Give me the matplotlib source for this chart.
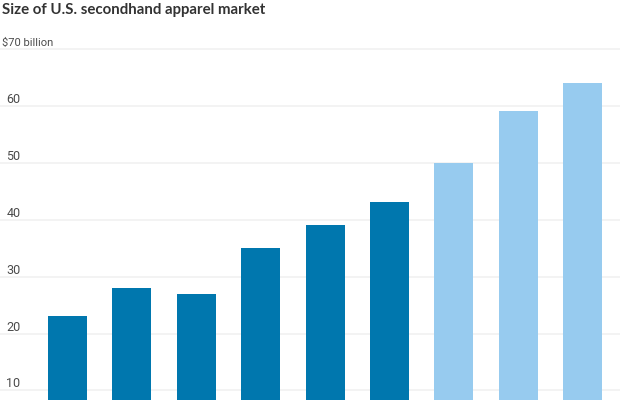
import matplotlib
matplotlib.use("Agg")
import matplotlib.pyplot as plt
from matplotlib.transforms import blended_transform_factory, offset_copy

years_index = [0, 1, 2, 3, 4, 5, 6, 7, 8]
values = [23, 28, 27, 35, 39, 43, 50, 59, 64]
is_projection = [False, False, False, False, False, False, True, True, True]
tick_values = [10, 20, 30, 40, 50, 60, 70]
tick_labels = ["10", "20", "30", "40", "50", "60", "$70 billion"]
title = "Size of U.S. secondhand apparel market"

fig = plt.figure(figsize=(6.2, 4.0), dpi=100)
ax = fig.add_axes([0, 0, 1, 1])
ax.set_xlim(-1.048, 8.58)
ax.set_ylim(8.33, 78.53)
ax.axis("off")

for t in tick_values:
    ax.axhline(t, color="#f0f0f0", lw=1.1, zorder=1)

colors = ["#97cbef" if p else "#0077ae" for p in is_projection]
ax.bar(years_index, values, width=0.606, color=colors, zorder=2)

trans = blended_transform_factory(fig.transFigure, ax.transData)
trans = offset_copy(trans, fig=fig, x=0, y=3, units="dots")
for t, lab in zip(tick_values, tick_labels):
    if lab.startswith("$"):
        ax.text(2 / 620, t, lab.replace("$", r"\$"), transform=trans, ha="left", va="baseline",
                fontsize=8.0, color="#4a4a4a", family="Roboto", zorder=3)
    else:
        ax.text(20.5 / 620, t, lab, transform=trans, ha="right", va="baseline",
                fontsize=9.0, color="#4a4a4a", family="Roboto", zorder=3)

fig.text(1.5 / 620, 1 - 14 / 400, title, ha="left", va="baseline", fontsize=10.8,
         fontweight="bold", family="Lato", color="#333333")

fig.savefig("out.png", dpi=100)
